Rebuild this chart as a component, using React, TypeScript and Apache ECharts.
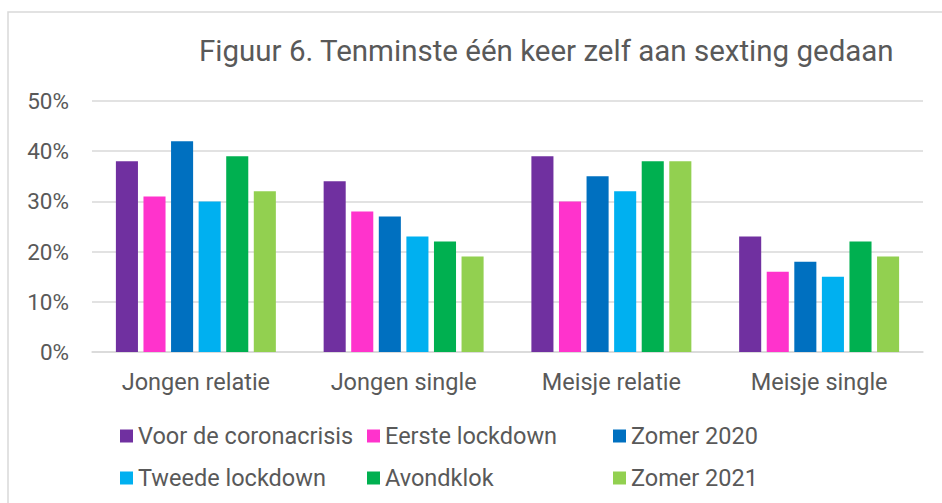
import React, { useEffect, useRef } from "react";
import * as echarts from "echarts";

const categories = ["Jongen relatie", "Jongen single", "Meisje relatie", "Meisje single"];
const seriesNames = [
  "Voor de coronacrisis",
  "Eerste lockdown",
  "Zomer 2020",
  "Tweede lockdown",
  "Avondklok",
  "Zomer 2021",
];
const voorCorona = [38, 34, 39, 23];
const eersteLockdown = [31, 28, 30, 16];
const zomer2020 = [42, 27, 35, 18];
const tweedeLockdown = [30, 23, 32, 15];
const avondklok = [39, 22, 38, 22];
const zomer2021 = [32, 19, 38, 19];
const colors = ["#7030A0", "#FF33CC", "#0070C0", "#00B0F0", "#00B050", "#92D050"];
const yTicks = [0, 10, 20, 30, 40, 50];

export default function App() {
  const ref = useRef<HTMLDivElement>(null);
  useEffect(() => {
    if (!ref.current) return;
    const chart = echarts.init(ref.current, null, { renderer: "svg" });
    const data = [voorCorona, eersteLockdown, zomer2020, tweedeLockdown, avondklok, zomer2021];
    const font = "Roboto";
    const textColor = "#595959";
    const legendCommon = {
      orient: "vertical" as const,
      top: 424,
      padding: 0,
      itemWidth: 13,
      itemHeight: 13,
      itemGap: 18,
      icon: "rect",
      textStyle: { fontFamily: font, fontSize: 23.5, color: textColor, lineHeight: 24 },
    };
    chart.setOption({
      animation: false,
      color: colors,
      title: {
        text: "Figuur 6. Tenminste één keer zelf aan sexting gedaan",
        left: 194,
        top: 31,
        textStyle: { fontFamily: font, fontSize: 29.5, fontWeight: "normal", color: textColor },
      },
      graphic: [
        {
          type: "rect",
          shape: { x: 8, y: 12, width: 960, height: 520 },
          style: { fill: "none", stroke: "#d9d9d9", lineWidth: 1.5 },
          silent: true,
        },
      ],
      legend: [
        { ...legendCommon, left: 120, data: [seriesNames[0], seriesNames[3]] },
        { ...legendCommon, left: 367, data: [seriesNames[1], seriesNames[4]] },
        { ...legendCommon, left: 613, data: [seriesNames[2], seriesNames[5]] },
      ],
      grid: { left: 92, right: 19, top: 101, bottom: 151, containLabel: false },
      xAxis: {
        type: "category",
        data: categories,
        axisLine: { lineStyle: { color: "#d9d9d9", width: 1.5 } },
        axisTick: { show: false },
        axisLabel: { fontFamily: font, fontSize: 23.5, color: textColor, margin: 18 },
      },
      yAxis: {
        type: "value",
        min: yTicks[0],
        max: yTicks[yTicks.length - 1],
        interval: 10,
        axisLine: { show: false },
        axisTick: { show: false },
        splitLine: { lineStyle: { color: "#d9d9d9", width: 1.5 } },
        axisLabel: {
          fontFamily: font,
          fontSize: 22.5,
          color: textColor,
          margin: 23,
          formatter: "{value}%",
        },
      },
      series: seriesNames.map((name, i) => ({
        name,
        type: "bar",
        data: data[i],
        barCategoryGap: "23%",
        barGap: "25%",
        itemStyle: { color: colors[i] },
      })),
    });
    return () => chart.dispose();
  }, []);
  return (
    <div
      ref={ref}
      style={{ position: "absolute", left: 0, top: 0, width: 942, height: 503, background: "#fff" }}
    />
  );
}
